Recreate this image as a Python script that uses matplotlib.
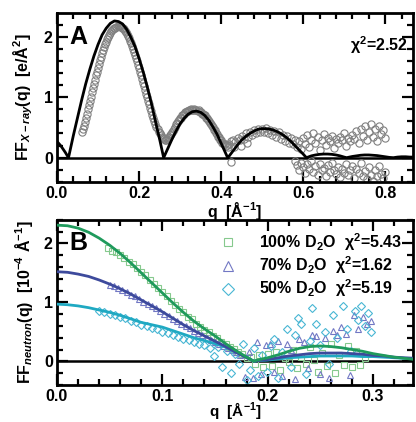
import matplotlib
matplotlib.use("Agg")
import matplotlib.pyplot as plt
from matplotlib.ticker import MultipleLocator

plt.rcParams["font.family"] = ["Liberation Sans", "DejaVu Sans"]
plt.rcParams["font.weight"] = "bold"
plt.rcParams["mathtext.fontset"] = "custom"
plt.rcParams["mathtext.rm"] = "Liberation Sans:bold"
plt.rcParams["mathtext.bf"] = "Liberation Sans:bold"
plt.rcParams["mathtext.it"] = "Liberation Sans:bold:italic"

# ---------------- X-ray form factor (panel A) ----------------
xray_fit_q = [0.00, 0.01, 0.02, 0.028, 0.03, 0.04, 0.05, 0.06, 0.07, 0.08, 0.09,
              0.10, 0.11, 0.12, 0.13, 0.14, 0.15, 0.16, 0.17, 0.18, 0.19, 0.20,
              0.21, 0.22, 0.23, 0.24, 0.25, 0.26, 0.27, 0.28, 0.29, 0.30, 0.31,
              0.32, 0.33, 0.34, 0.35, 0.36, 0.37, 0.38, 0.39, 0.40, 0.41, 0.416,
              0.42, 0.43, 0.44, 0.45, 0.46, 0.47, 0.48, 0.49, 0.50, 0.51, 0.52,
              0.53, 0.54, 0.55, 0.56, 0.57, 0.58, 0.59, 0.60, 0.608, 0.62, 0.63,
              0.64, 0.65, 0.66, 0.67, 0.68, 0.69, 0.70, 0.706, 0.72, 0.73, 0.74,
              0.75, 0.76, 0.77, 0.78, 0.79, 0.80, 0.81, 0.82, 0.83, 0.84, 0.85,
              0.86, 0.87]
xray_fit_ff = [0.27, 0.19, 0.09, 0.00, 0.06, 0.37, 0.66, 0.95, 1.22, 1.46, 1.68,
               1.87, 2.03, 2.14, 2.22, 2.26, 2.25, 2.21, 2.12, 1.99, 1.84, 1.64,
               1.42, 1.17, 0.90, 0.60, 0.31, 0.00, 0.15, 0.30, 0.44, 0.56, 0.65,
               0.72, 0.76, 0.77, 0.75, 0.70, 0.62, 0.51, 0.39, 0.24, 0.09, 0.00,
               0.03, 0.12, 0.21, 0.29, 0.35, 0.40, 0.44, 0.47, 0.48, 0.48, 0.47,
               0.45, 0.42, 0.38, 0.33, 0.27, 0.20, 0.13, 0.06, 0.00, 0.03, 0.045,
               0.055, 0.06, 0.06, 0.055, 0.045, 0.03, 0.01, 0.00, 0.02, 0.03, 0.04,
               0.045, 0.045, 0.04, 0.035, 0.025, 0.015, 0.005, 0.00, 0.01, 0.015,
               0.015, 0.01, 0.01]

# measured points, low-q region (dense)
xray_q_lo = [0.0600, 0.0625, 0.0650, 0.0675, 0.0700, 0.0725, 0.0750, 0.0775, 0.0800, 0.0825,
             0.0850, 0.0875, 0.0900, 0.0925, 0.0950, 0.0975, 0.1000, 0.1025, 0.1050, 0.1075,
             0.1100, 0.1125, 0.1150, 0.1175, 0.1200, 0.1225, 0.1250, 0.1275, 0.1300, 0.1325,
             0.1350, 0.1375, 0.1400, 0.1425, 0.1450, 0.1475, 0.1500, 0.1525, 0.1550, 0.1575,
             0.1600, 0.1625, 0.1650, 0.1675, 0.1700, 0.1725, 0.1750, 0.1775, 0.1800, 0.1825,
             0.1850, 0.1875, 0.1900, 0.1925, 0.1950, 0.1975, 0.2000, 0.2025, 0.2050, 0.2075,
             0.2100, 0.2125, 0.2150, 0.2175, 0.2200, 0.2225, 0.2250, 0.2275, 0.2300, 0.2325,
             0.2350, 0.2375, 0.2400, 0.2425, 0.2450, 0.2475, 0.2500, 0.2525, 0.2550, 0.2575,
             0.2600, 0.2625, 0.2650, 0.2675, 0.2700, 0.2725, 0.2750, 0.2775, 0.2800, 0.2825,
             0.2850, 0.2875, 0.2900, 0.2925, 0.2950, 0.2975, 0.3000, 0.3025, 0.3050, 0.3075,
             0.3100, 0.3125, 0.3150, 0.3175, 0.3200, 0.3225, 0.3250, 0.3275, 0.3300, 0.3325,
             0.3350, 0.3375, 0.3400, 0.3425, 0.3450, 0.3475, 0.3500, 0.3525, 0.3550, 0.3575,
             0.3600, 0.3625, 0.3650, 0.3675, 0.3700, 0.3725, 0.3750, 0.3775, 0.3800, 0.3825,
             0.3850, 0.3875, 0.3900, 0.3925, 0.3950, 0.3975, 0.4000, 0.4025, 0.4050, 0.4075,
             0.4100, 0.4125, 0.4150, 0.4175, 0.4200]
xray_ff_lo = [0.42, 0.47, 0.52, 0.59, 0.66, 0.73, 0.80, 0.87, 0.94, 1.01,
              1.08, 1.15, 1.22, 1.29, 1.36, 1.42, 1.49, 1.55, 1.61, 1.67,
              1.73, 1.78, 1.83, 1.88, 1.92, 1.96, 2.00, 2.03, 2.06, 2.09,
              2.11, 2.13, 2.14, 2.15, 2.16, 2.17, 2.17, 2.17, 2.16, 2.15,
              2.14, 2.12, 2.10, 2.07, 2.04, 2.01, 1.97, 1.93, 1.89, 1.85,
              1.80, 1.75, 1.70, 1.65, 1.59, 1.54, 1.48, 1.42, 1.36, 1.30,
              1.24, 1.18, 1.12, 1.06, 1.00, 0.94, 0.88, 0.82, 0.77, 0.71,
              0.66, 0.61, 0.56, 0.51, 0.47, 0.43, 0.40, 0.37, 0.34, 0.32,
              0.31, 0.30, 0.30, 0.31, 0.32, 0.34, 0.37, 0.39, 0.42, 0.44,
              0.48, 0.51, 0.55, 0.57, 0.60, 0.63, 0.65, 0.66, 0.70, 0.71,
              0.72, 0.75, 0.75, 0.77, 0.77, 0.79, 0.78, 0.80, 0.79, 0.78,
              0.80, 0.78, 0.79, 0.77, 0.78, 0.75, 0.76, 0.73, 0.73, 0.70,
              0.70, 0.66, 0.66, 0.62, 0.61, 0.57, 0.56, 0.52, 0.51, 0.46,
              0.45, 0.40, 0.39, 0.35, 0.34, 0.29, 0.29, 0.25, 0.25, 0.22,
              0.23, 0.19, 0.21, 0.18, 0.23]

# measured points, high-q region (noisy)
xray_q_hi = [0.425, 0.425, 0.430, 0.432, 0.435, 0.440, 0.445,
             0.448, 0.450, 0.455, 0.460, 0.462, 0.465, 0.470, 0.475, 0.480, 0.485,
             0.490, 0.495, 0.500, 0.505, 0.510, 0.515, 0.520, 0.525, 0.530, 0.535,
             0.540, 0.545, 0.550, 0.555, 0.560, 0.565, 0.570, 0.575, 0.580,
             0.585, 0.590, 0.595, 0.600, 0.605, 0.610, 0.615, 0.620, 0.625, 0.630,
             0.635, 0.640, 0.645, 0.650, 0.655, 0.660, 0.665, 0.670, 0.675, 0.680,
             0.685, 0.690, 0.695, 0.700, 0.705, 0.710, 0.715, 0.720, 0.725, 0.730,
             0.735, 0.740, 0.745, 0.750, 0.755, 0.760, 0.765, 0.770, 0.775, 0.780,
             0.785, 0.790, 0.795, 0.800,
             0.580, 0.585, 0.590, 0.595, 0.600, 0.605, 0.610, 0.615, 0.620, 0.625,
             0.630, 0.635, 0.640, 0.645, 0.650, 0.655, 0.660, 0.665, 0.670, 0.675,
             0.680, 0.685, 0.690, 0.695, 0.700, 0.705, 0.710, 0.715, 0.720, 0.725,
             0.730, 0.735, 0.740, 0.745, 0.750, 0.755, 0.760, 0.765, 0.770, 0.775,
             0.780, 0.785, 0.790, 0.795, 0.800]
xray_ff_hi = [0.27, -0.07, 0.30, 0.17, 0.26, 0.33, 0.29,
              0.20, 0.36, 0.31, 0.40, 0.24, 0.35, 0.42, 0.38, 0.46, 0.41,
              0.48, 0.43, 0.47, 0.42, 0.49, 0.40, 0.46, 0.37, 0.44, 0.35,
              0.42, 0.31, 0.38, 0.28, 0.36, 0.25, 0.33, 0.22, 0.30,
              0.18, 0.27, 0.14, 0.32, 0.22, 0.38, 0.17, 0.29, 0.41, 0.24,
              0.34, 0.13, 0.30, 0.39, 0.21, 0.33, 0.27, 0.36, 0.16, 0.31,
              0.24, 0.35, 0.29, 0.40, 0.20, 0.33, 0.27, 0.38, 0.31, 0.44,
              0.25, 0.48, 0.36, 0.52, 0.30, 0.42, 0.55, 0.34, 0.47, 0.28,
              0.52, 0.39, 0.45, 0.33,
              -0.05, -0.12, -0.20, -0.08, -0.16, -0.25, -0.11, -0.19, -0.06, -0.23,
              -0.14, -0.28, -0.10, -0.21, -0.17, -0.30, -0.12, -0.24, -0.08, -0.20,
              -0.27, -0.15, -0.32, -0.18, -0.25, -0.11, -0.29, -0.21, -0.14, -0.33,
              -0.19, -0.26, -0.09, -0.30, -0.22, -0.36, -0.16, -0.28, -0.38, -0.21,
              -0.31, -0.13, -0.27, -0.34, -0.24]
xray_chi2 = 2.52

# ---------------- Neutron form factors (panel B) ----------------
fit_q = [0.00, 0.01, 0.02, 0.03, 0.04, 0.05, 0.06, 0.07, 0.08, 0.09, 0.10, 0.11,
         0.12, 0.13, 0.14, 0.15, 0.16, 0.17, 0.18, 0.187, 0.19, 0.20, 0.21, 0.22,
         0.23, 0.24, 0.25, 0.26, 0.27, 0.28, 0.29, 0.30, 0.31, 0.32, 0.33, 0.34]
fit_d2o100 = [2.31, 2.30, 2.26, 2.19, 2.09, 1.97, 1.83, 1.67, 1.50, 1.33, 1.16, 0.99,
              0.83, 0.68, 0.55, 0.43, 0.30, 0.18, 0.07, 0.00, 0.02, 0.06, 0.11, 0.17,
              0.22, 0.25, 0.26, 0.25, 0.23, 0.20, 0.17, 0.13, 0.10, 0.07, 0.05, 0.03]
fit_d2o70 = [1.52, 1.51, 1.48, 1.44, 1.38, 1.31, 1.23, 1.14, 1.04, 0.94, 0.84, 0.73,
             0.62, 0.52, 0.43, 0.34, 0.25, 0.15, 0.06, 0.00, 0.01, 0.03, 0.06, 0.09,
             0.11, 0.13, 0.14, 0.14, 0.14, 0.13, 0.12, 0.10, 0.09, 0.07, 0.06, 0.05]
fit_d2o50 = [0.97, 0.96, 0.94, 0.91, 0.87, 0.83, 0.78, 0.72, 0.66, 0.62, 0.58, 0.52,
             0.46, 0.40, 0.35, 0.30, 0.24, 0.16, 0.07, 0.00, 0.01, 0.02, 0.04, 0.06,
             0.07, 0.08, 0.09, 0.09, 0.09, 0.09, 0.08, 0.08, 0.07, 0.06, 0.05, 0.05]

q_d2o100 = [0.048, 0.052, 0.056, 0.060, 0.064, 0.068, 0.072, 0.076, 0.080, 0.084,
            0.088, 0.092, 0.096, 0.100, 0.104, 0.108, 0.112, 0.116, 0.120, 0.124,
            0.128, 0.132, 0.136, 0.140, 0.144, 0.148, 0.152, 0.156, 0.160, 0.164,
            0.168, 0.172, 0.176, 0.180, 0.184, 0.188, 0.192, 0.196, 0.200, 0.204,
            0.208, 0.212, 0.216, 0.220, 0.224, 0.228, 0.232, 0.236, 0.240, 0.244,
            0.248, 0.252, 0.256, 0.260, 0.264, 0.268, 0.272, 0.276, 0.280, 0.284,
            0.288, 0.292]
ff_d2o100 = [1.93, 1.88, 1.86, 1.80, 1.76, 1.69, 1.65, 1.58, 1.52, 1.46,
             1.38, 1.32, 1.24, 1.18, 1.10, 1.03, 0.96, 0.89, 0.84, 0.76,
             0.71, 0.64, 0.59, 0.53, 0.49, 0.43, 0.39, 0.33, 0.30, 0.24,
             0.21, 0.15, 0.12, 0.05, 0.08, -0.04, 0.10, -0.10, 0.12, -0.08,
             0.16, -0.15, 0.05, -0.02, 0.20, -0.12, 0.08, -0.05, 0.25, 0.02,
             -0.18, 0.14, -0.08, 0.30, -0.20, 0.10, -0.06, 0.26, -0.10, 0.18,
             -0.06, 0.05]

q_d2o70 = [0.050, 0.054, 0.058, 0.062, 0.066, 0.070, 0.074, 0.078, 0.082, 0.086,
           0.090, 0.094, 0.098, 0.102, 0.106, 0.110, 0.114, 0.118, 0.122, 0.126,
           0.130, 0.134, 0.138, 0.142, 0.146, 0.150, 0.154, 0.158, 0.162, 0.166,
           0.170, 0.174, 0.178, 0.182, 0.186, 0.190, 0.194, 0.198, 0.202, 0.206,
           0.210, 0.214, 0.218, 0.222, 0.226, 0.230, 0.234, 0.238, 0.242, 0.246,
           0.250, 0.254, 0.258, 0.262, 0.266, 0.270, 0.274, 0.278, 0.282, 0.286,
           0.290, 0.294, 0.298]
ff_d2o70 = [1.30, 1.28, 1.24, 1.21, 1.18, 1.13, 1.10, 1.06, 1.01, 0.98,
            0.93, 0.90, 0.85, 0.81, 0.77, 0.72, 0.69, 0.64, 0.60, 0.56,
            0.51, 0.48, 0.44, 0.40, 0.36, 0.33, 0.29, 0.26, 0.22, 0.19,
            0.15, 0.10, -0.26, 0.16, -0.29, 0.33, -0.22, 0.28, 0.30, -0.18,
            0.35, -0.25, 0.30, 0.20, -0.30, 0.38, 0.33, -0.12, 0.45, 0.43,
            -0.22, 0.40, -0.29, 0.52, 0.45, 0.58, 0.47, -0.23, 0.79, 0.55,
            0.75, 0.63, 0.68]

q_d2o50 = [0.040, 0.045, 0.050, 0.055, 0.060, 0.065, 0.070, 0.075, 0.080, 0.085,
           0.090, 0.095, 0.100, 0.105, 0.110, 0.115, 0.120, 0.125, 0.130, 0.135,
           0.140, 0.145, 0.149, 0.153, 0.157, 0.161, 0.165, 0.169, 0.173, 0.177,
           0.180, 0.183, 0.187, 0.191, 0.195, 0.199, 0.203, 0.206, 0.210, 0.214,
           0.218, 0.222, 0.226, 0.229, 0.232, 0.236, 0.240, 0.242, 0.246, 0.250,
           0.254, 0.258, 0.262, 0.266, 0.271, 0.275, 0.279, 0.283, 0.286, 0.289,
           0.292, 0.295, 0.298]
ff_d2o50 = [0.86, 0.84, 0.80, 0.79, 0.75, 0.73, 0.69, 0.67, 0.62, 0.60,
            0.56, 0.54, 0.50, 0.48, 0.44, 0.42, 0.38, 0.36, 0.33, 0.30,
            0.27, 0.22, 0.09, 0.24, -0.10, 0.18, -0.20, 0.12, -0.05, 0.30,
            -0.32, -0.14, 0.22, -0.25, 0.10, -0.18, 0.26, 0.38, -0.28, 0.15,
            0.54, -0.10, 0.45, 0.74, 0.63, -0.22, 0.35, 0.91, 0.63, 0.28,
            0.49, -0.05, 0.79, 0.40, 0.94, 0.55, 0.18, 0.85, 0.70, 0.94,
            0.60, 0.82, 0.50]

chi2_d2o = [5.43, 1.62, 5.19]
labels_d2o = ["100% D$_2$O", "70% D$_2$O", "50% D$_2$O"]

GREEN, BLUE, CYAN = "#1f9a5c", "#3d4a9c", "#1fa9c2"
GREEN_M, BLUE_M, CYAN_M = "#86c98e", "#7278c4", "#49b6d4"

fig = plt.figure(figsize=(4.16, 4.22), dpi=100)
axA = fig.add_axes([0.137, 0.569, 0.856, 0.400])
axB = fig.add_axes([0.137, 0.088, 0.856, 0.391])


def style_axes(ax, xmajor, xminor):
    for s in ax.spines.values():
        s.set_linewidth(2.0)
    ax.xaxis.set_major_locator(MultipleLocator(xmajor))
    ax.xaxis.set_minor_locator(MultipleLocator(xminor))
    ax.yaxis.set_major_locator(MultipleLocator(1))
    ax.yaxis.set_minor_locator(MultipleLocator(0.2))
    ax.tick_params(which="both", direction="in", top=True, right=True,
                   width=1.6, labelsize=11.5)
    ax.tick_params(which="major", length=8, pad=3)
    ax.tick_params(which="minor", length=4.5)
    for lab in ax.get_xticklabels() + ax.get_yticklabels():
        lab.set_fontweight("bold")


# Panel A
axA.axhline(0, color="black", lw=1.8, zorder=1)
for qs, fs in ((xray_q_lo, xray_ff_lo), (xray_q_hi, xray_ff_hi)):
    axA.plot(qs, fs, "o", ms=5.2, mfc="none", mec="#808080", mew=0.8, zorder=2)
axA.plot(xray_fit_q, xray_fit_ff, color="black", lw=2.0, zorder=3)
axA.set_xlim(0, 0.868)
axA.set_ylim(-0.4, 2.39)
style_axes(axA, 0.2, 0.04)
axA.xaxis.set_major_formatter(plt.FuncFormatter(lambda v, p: f"{v:.1f}"))
axA.set_xlabel("q  [Å$^{-1}$]", fontsize=11.5, fontweight="bold", labelpad=-1)
axA.set_ylabel("FF$_{\\mathit{X-ray}}$(q)  [e/Å$^2$]", fontsize=11.5,
               fontweight="bold", labelpad=6)
axA.text(0.035, 0.93, "A", transform=axA.transAxes, fontsize=18,
         fontweight="bold", va="top", ha="left")
axA.text(0.985, 0.81, f"χ$^2$={xray_chi2:.2f}", transform=axA.transAxes,
         fontsize=11.5, fontweight="bold", ha="right", va="center")

# Panel B
axB.axhline(0, color="black", lw=1.8, zorder=1)
hG, = axB.plot(q_d2o100, ff_d2o100, "s", ms=4.5, mfc="none", mec=GREEN_M, mew=0.8, zorder=2)
hB, = axB.plot(q_d2o70, ff_d2o70, "^", ms=5, mfc="none", mec=BLUE_M, mew=0.8, zorder=2)
hC, = axB.plot(q_d2o50, ff_d2o50, "D", ms=4.5, mfc="none", mec=CYAN_M, mew=0.8, zorder=2)
axB.plot(fit_q, fit_d2o50, color=CYAN, lw=2.0, zorder=3)
axB.plot(fit_q, fit_d2o70, color=BLUE, lw=2.0, zorder=3)
axB.plot(fit_q, fit_d2o100, color=GREEN, lw=2.0, zorder=4)
axB.set_xlim(0, 0.338)
axB.set_ylim(-0.4, 2.4)
style_axes(axB, 0.1, 0.02)
axB.xaxis.set_major_formatter(plt.FuncFormatter(lambda v, p: f"{v:.1f}"))
axB.set_xlabel("q  [Å$^{-1}$]", fontsize=11, fontweight="bold", labelpad=-3)
axB.set_ylabel("FF$_{\\mathit{neutron}}$(q)  [10$^{-4}$ Å$^{-1}$]", fontsize=11.5,
               fontweight="bold", labelpad=6)
axB.text(0.035, 0.93, "B", transform=axB.transAxes, fontsize=18,
         fontweight="bold", va="top", ha="left")

leg_labels = [f"{lab}  χ$^2$={c:.2f}" for lab, c in zip(labels_d2o, chi2_d2o)]
axB.legend([hG, hB, hC], leg_labels, loc="upper right", frameon=False,
           prop={"size": 11.5, "weight": "bold"}, handletextpad=0.9,
           labelspacing=0.1, borderaxespad=0.2, markerscale=1.4,
           bbox_to_anchor=(0.995, 0.99))

fig.savefig("out.png", dpi=100)
